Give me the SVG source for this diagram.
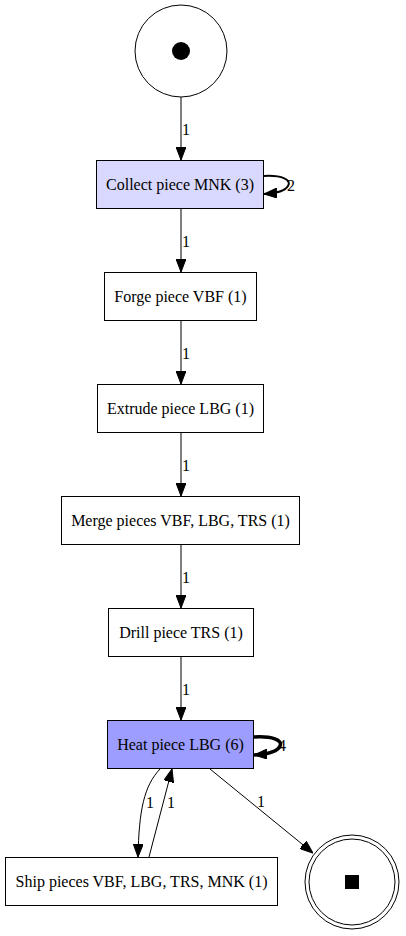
<svg xmlns="http://www.w3.org/2000/svg" width="406" height="936" viewBox="0 0 406 936">
<style>
.n{stroke:#000;stroke-width:1;fill:#fff}
.t{font-family:'Liberation Serif','Times New Roman',serif;font-size:16px;fill:#000;text-anchor:middle}
.e{fill:none;stroke:#000;stroke-width:1}
.l{font-family:'Liberation Serif','Times New Roman',serif;font-size:16px;fill:#000}
</style>
<defs>
<marker id="a" viewBox="0 0 13 10" refX="13" refY="5" markerWidth="13" markerHeight="10" markerUnits="userSpaceOnUse" orient="auto"><path d="M0,0L13,5L0,10z" fill="#000" stroke="#000"/></marker>
</defs>
<rect width="406" height="936" fill="#fff"/>
<g id="edges">
<path class="e" d="M181,97V160" marker-end="url(#a)"/>
<text class="l" x="182" y="135">1</text>
<path class="e" d="M264,176C282,175 292,180 288,186C285,191 278,193 264,194" style="stroke-width:2" marker-end="url(#a)"/>
<text class="l" x="287" y="191">2</text>
<path class="e" d="M181,209V272" marker-end="url(#a)"/>
<text class="l" x="182" y="247">1</text>
<path class="e" d="M181,321V384" marker-end="url(#a)"/>
<text class="l" x="182" y="359">1</text>
<path class="e" d="M181,433V496" marker-end="url(#a)"/>
<text class="l" x="182" y="471">1</text>
<path class="e" d="M181,545V608" marker-end="url(#a)"/>
<text class="l" x="182" y="583">1</text>
<path class="e" d="M181,657V720" marker-end="url(#a)"/>
<text class="l" x="182" y="695">1</text>
<path class="e" d="M254,737C272,736 283,740 280,746C278,751 270,754 254,755" style="stroke-width:3.5" marker-end="url(#a)"/>
<text class="l" x="278" y="751">4</text>
<path class="e" d="M160,769C144,786 139,810 138,857" marker-end="url(#a)"/>
<text class="l" x="146" y="808">1</text>
<path class="e" d="M149,857L172,769" marker-end="url(#a)"/>
<text class="l" x="167" y="808">1</text>
<path class="e" d="M210,769L313,853" marker-end="url(#a)"/>
<text class="l" x="257" y="807">1</text>
</g>
<g id="start"><circle class="n" cx="181" cy="51" r="46"/><circle cx="181" cy="51" r="9" fill="#000"/></g>
<g id="collect"><rect class="n" x="96.5" y="160.5" width="167" height="48" style="fill:#d9d9ff"/><text class="t" x="180" y="190">Collect piece MNK (3)</text></g>
<g id="forge"><rect class="n" x="104.5" y="272.5" width="152" height="48"/><text class="t" x="180.5" y="302">Forge piece VBF (1)</text></g>
<g id="extrude"><rect class="n" x="97.5" y="384.5" width="166" height="48"/><text class="t" x="180.5" y="414">Extrude piece LBG (1)</text></g>
<g id="merge"><rect class="n" x="61.5" y="496.5" width="238" height="48"/><text class="t" x="180.5" y="526">Merge pieces VBF, LBG, TRS (1)</text></g>
<g id="drill"><rect class="n" x="108.5" y="608.5" width="145" height="48"/><text class="t" x="181" y="638">Drill piece TRS (1)</text></g>
<g id="heat"><rect class="n" x="107.5" y="720.5" width="146" height="48" style="fill:#9d9dff"/><text class="t" x="180.5" y="750">Heat piece LBG (6)</text></g>
<g id="ship"><rect class="n" x="5.5" y="857.5" width="272" height="48"/><text class="t" x="141.5" y="887">Ship pieces VBF, LBG, TRS, MNK (1)</text></g>
<g id="end"><circle class="n" cx="352" cy="882" r="47"/><circle class="n" cx="352" cy="882" r="43"/><rect x="345" y="875" width="14" height="14" fill="#000"/></g>
</svg>
